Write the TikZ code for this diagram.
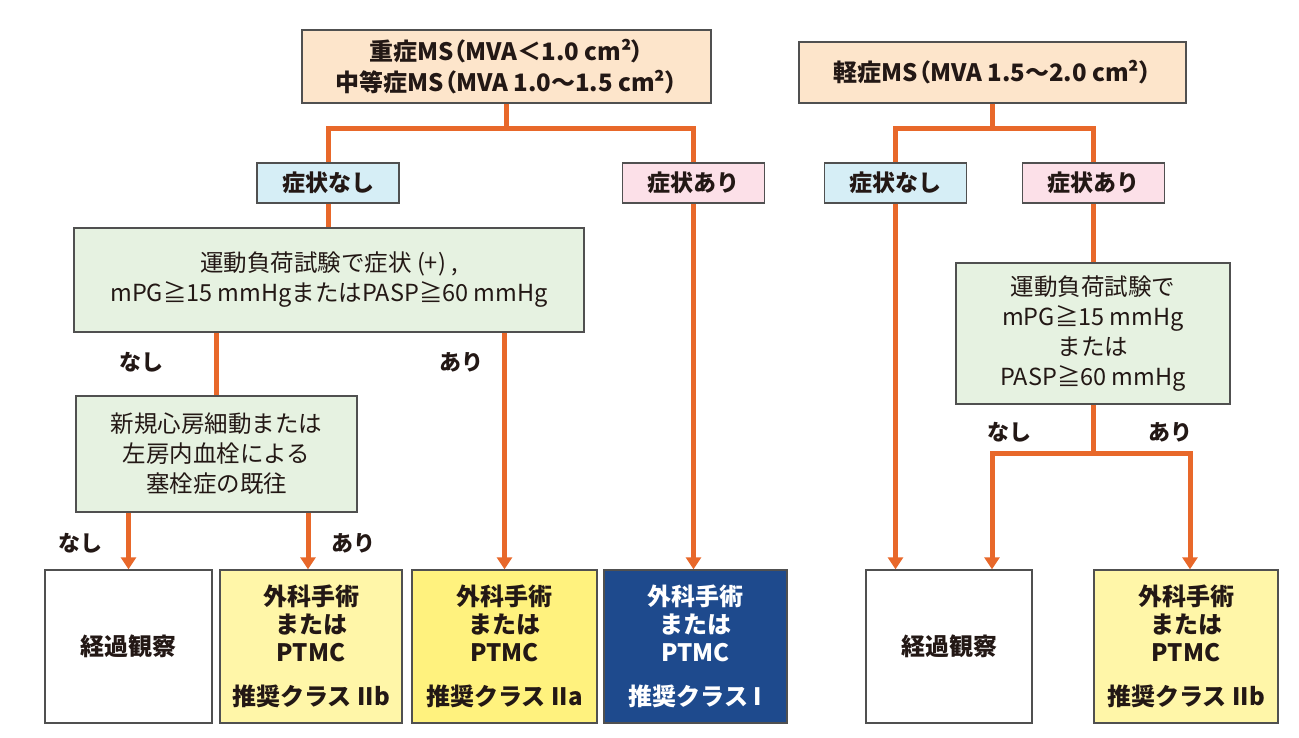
\documentclass[tikz,border=0pt]{standalone}
\usepackage{fontspec}
\setmainfont{Noto Sans CJK JP}
\newfontfamily\jpprop{Noto Sans CJK JP}[RawFeature=+palt]
\usetikzlibrary{arrows.meta}
\definecolor{orng}{HTML}{E8682A}
\definecolor{peach}{HTML}{FDE5CB}
\definecolor{cyanS}{HTML}{D6EEF6}
\definecolor{pinkS}{HTML}{FCE0E8}
\definecolor{greenB}{HTML}{E6F2E1}
\definecolor{yelA}{HTML}{FFF6A8}
\definecolor{yelB}{HTML}{FFF27E}
\definecolor{navy}{HTML}{1E4A8D}
\definecolor{bord}{HTML}{505050}
\definecolor{txt}{HTML}{231815}
\tikzset{
  box/.style={draw=bord, line width=1.4pt, inner sep=0pt, align=center, text=txt},
  topbox/.style={box, fill=peach, font=\jpprop\bfseries\fontsize{24}{31}\selectfont},
  symbox/.style={box, minimum width=142pt, minimum height=40pt, font=\bfseries\fontsize{23}{28}\selectfont},
  greenbox/.style={box, fill=greenB, font=\fontsize{23.5}{30}\selectfont},
  endbox/.style={box, minimum height=153pt, font=\bfseries\fontsize{24}{28}\selectfont},
  conn/.style={draw=orng, line width=5pt},
  arr/.style={conn, -{Triangle[width=15pt,length=12pt]}},
  lbl/.style={inner sep=0pt, text=txt, font=\bfseries\fontsize{22}{26}\selectfont},
}
\begin{document}
\begin{tikzpicture}[x=1pt,y=-1pt]
\useasboundingbox[fill=white] (0,0) rectangle (1299,737);
% top boxes
\node[topbox, minimum width=409pt, minimum height=73pt] (T1) at (506.5,66.5) {重症MS（MVA＜1.0 cm²）\\中等症MS（MVA 1.0〜1.5 cm²）};
\node[topbox, minimum width=387pt, minimum height=61pt] (T2) at (992.5,72.5) {軽症MS（MVA 1.5〜2.0 cm²）};
% symptom boxes
\node[symbox, fill=cyanS] (S1) at (328,183) {症状なし};
\node[symbox, fill=pinkS] (S2) at (693.5,183) {症状あり};
\node[symbox, fill=cyanS] (S3) at (895.5,183) {症状なし};
\node[symbox, fill=pinkS] (S4) at (1093.5,183) {症状あり};
% green boxes
\node[greenbox, minimum width=510pt, minimum height=104pt] (G1) at (329,280) {運動負荷試験で症状 (+) ,\\mPG≧15 mmHgまたはPASP≧60 mmHg};
\node[greenbox, minimum width=281pt, minimum height=116pt] (G2) at (216.5,454) {新規心房細動または\\左房内血栓による\\塞栓症の既往};
\node[greenbox, minimum width=274pt, minimum height=141pt] (G3) at (1093,333.5) {運動負荷試験で\\mPG≧15 mmHg\\または\\PASP≧60 mmHg};
% end boxes
\node[endbox, fill=white, minimum width=167pt] (W1) at (128.5,646.5) {経過観察};
\node[endbox, fill=yelA, minimum width=182pt] (Y1) at (311,646.5) {外科手術\\または\\PTMC\\[16pt]推奨クラス IIb};
\node[endbox, fill=yelB, minimum width=185pt] (Y2) at (504.5,646.5) {外科手術\\または\\PTMC\\[16pt]推奨クラス IIa};
\node[endbox, fill=navy, text=white, minimum width=183pt] (B) at (695.5,646.5) {外科手術\\または\\PTMC\\[16pt]推奨クラス I};
\node[endbox, fill=white, minimum width=166pt] (W2) at (949,646.5) {経過観察};
\node[endbox, fill=yelA, minimum width=184pt] (Y3) at (1186,646.5) {外科手術\\または\\PTMC\\[16pt]推奨クラス IIb};
% labels
\node[lbl] (L1) at (141,362) {なし};
\node[lbl] (L2) at (461,362) {あり};
\node[lbl] (L3) at (80,543) {なし};
\node[lbl] (L4) at (353,543) {あり};
\node[lbl] (L5) at (1009,432) {なし};
\node[lbl] (L6) at (1170,432) {あり};
% connectors left tree
\draw[conn] (T1.south) -- ++(0,25) coordinate (j1);
\draw[conn] (S1.north) |- (j1) -| (S2.north);
\draw[conn] (S1.south) -- (S1.south |- G1.north);
\draw[conn] (G2.north |- G1.south) -- (G2.north);
\draw[arr] (Y2.north |- G1.south) -- (Y2.north);
\draw[arr] (W1.north |- G2.south) -- (W1.north);
\draw[arr] ([xshift=-3pt]Y1.north |- G2.south) -- ([xshift=-3pt]Y1.north);
\draw[arr] (S2.south) -- (S2.south |- B.north);
% connectors right tree
\draw[conn] (T2.south) -- ++(0,25) coordinate (j2);
\draw[conn] (S3.north) |- (j2) -| (S4.north);
\draw[arr] (S3.south) -- (S3.south |- W2.north);
\draw[conn] (S4.south) -- (S4.south |- G3.north);
\draw[conn] (G3.south) -- ++(0,49) coordinate (j3);
\coordinate (w2in) at ([xshift=43pt]W2.north);
\draw[arr] (j3) -| (w2in);
\draw[arr] (j3) -| ([xshift=4pt]Y3.north);
\end{tikzpicture}
\end{document}
